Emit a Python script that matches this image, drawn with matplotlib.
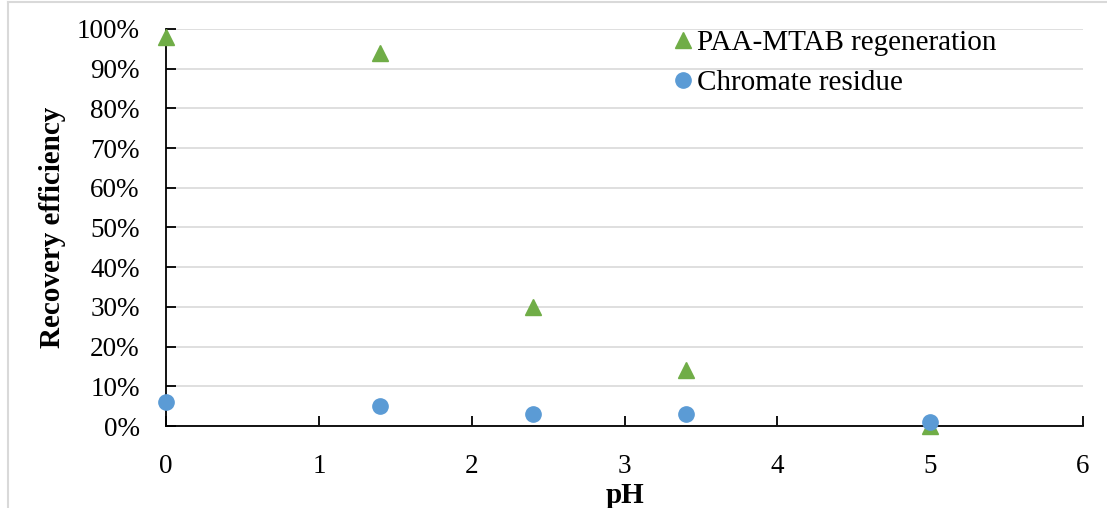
import matplotlib
matplotlib.use("Agg")
import matplotlib.pyplot as plt
from matplotlib.lines import Line2D
from matplotlib.ticker import PercentFormatter, MultipleLocator

# Data: recovery efficiency vs pH
ph = [0, 1.4, 2.4, 3.4, 5]
regeneration = [98, 94, 30, 14, 0]
chromate = [6, 5, 3, 3, 1]

plt.rcParams['font.family'] = ['Liberation Serif', 'DejaVu Serif']

fig = plt.figure(figsize=(11.07, 5.08), dpi=100)
ax = fig.add_axes([0.15, 0.1614, 0.8283, 0.7816])

# chart-area border (top and left edges)
W, H = 1107, 508
fig.lines.append(Line2D([7.5 / W, 1.0], [1 - 2 / H, 1 - 2 / H], transform=fig.transFigure,
                        color='#d9d9d9', linewidth=1.5))
fig.lines.append(Line2D([7.5 / W, 7.5 / W], [0.0, 1 - 2 / H], transform=fig.transFigure,
                        color='#d9d9d9', linewidth=1.5))

ax.plot(ph, regeneration, linestyle='none', marker='^', markersize=11,
        color='#70AD47', label='PAA-MTAB regeneration', clip_on=False, zorder=3)
ax.plot(ph, chromate, linestyle='none', marker='o', markersize=11,
        color='#5B9BD5', label='Chromate residue', clip_on=False, zorder=4)

ax.set_xlim(0, 6)
ax.set_ylim(0, 100)
ax.xaxis.set_major_locator(MultipleLocator(1))
ax.yaxis.set_major_locator(MultipleLocator(10))
ax.yaxis.set_major_formatter(PercentFormatter(decimals=0))

ax.grid(axis='y', color='#d9d9d9', linewidth=1.2)
ax.set_axisbelow(True)
for s in ['top', 'right']:
    ax.spines[s].set_visible(False)
for s in ['left', 'bottom']:
    ax.spines[s].set_color('black')
    ax.spines[s].set_linewidth(1.3)

ax.tick_params(axis='both', direction='in', length=7, width=1.3, labelsize=19.5, colors='black')
ax.tick_params(axis='x', pad=20)
ax.tick_params(axis='y', pad=19)

ax.set_xlabel('pH', fontsize=21, fontweight='bold', labelpad=2)
ax.set_ylabel('Recovery efficiency', fontsize=21, fontweight='bold', labelpad=8)

ax.legend(loc='upper left', bbox_to_anchor=(0.535, 1.027), frameon=False, fontsize=21,
          handletextpad=0.0, handlelength=1.0, labelspacing=0.45, borderaxespad=0)

fig.savefig('out.png', dpi=100)
